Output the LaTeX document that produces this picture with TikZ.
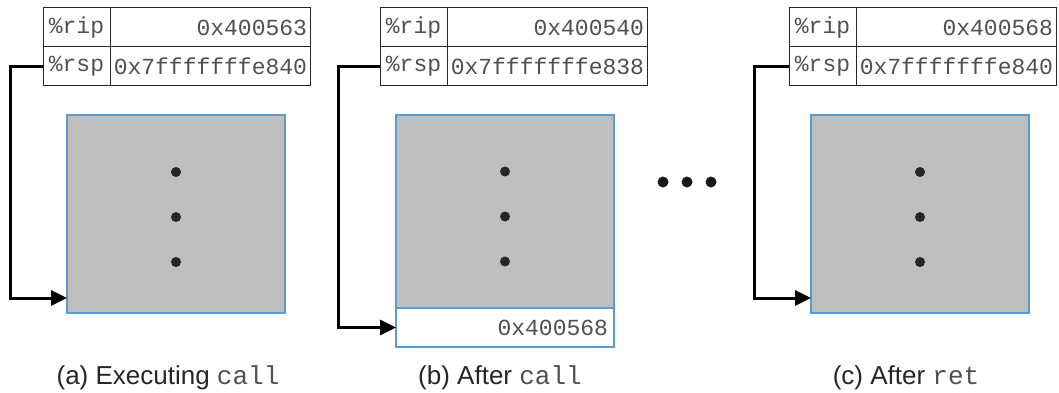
\documentclass[tikz,border=0pt]{standalone}
\usepackage{fontspec}
\setmainfont{Liberation Sans}
\setmonofont{Liberation Mono}
\usetikzlibrary{positioning,arrows.meta}

\definecolor{stackgray}{RGB}{191,191,191}
\definecolor{stackedge}{RGB}{91,155,213}
\definecolor{regtext}{RGB}{80,80,80}

\tikzset{
  regname/.style={draw=black!85, line width=1pt, outer sep=0pt, minimum width=67pt, minimum height=39pt,
    inner sep=0pt, anchor=north west, text=regtext, font=\fontsize{23}{23}\ttfamily},
  regval/.style={draw=black!85, line width=1pt, outer sep=0pt, minimum height=39pt, text width=194pt,
    inner xsep=3pt, inner ysep=0pt, align=right, text=regtext, font=\fontsize{23}{23}\ttfamily},
  stackbox/.style={draw=stackedge, line width=1.2pt, outer sep=0pt, fill=stackgray, minimum width=218pt,
    inner sep=0pt, anchor=north west},
  retslot/.style={draw=stackedge, line width=1.2pt, outer sep=0pt, fill=white, minimum height=39pt,
    text width=206pt, inner xsep=6pt, inner ysep=0pt, align=right, text=regtext, font=\fontsize{23}{23}\ttfamily},
  ptr/.style={-{Triangle[length=16pt,width=15pt]}, line width=3pt},
  caption/.style={font=\fontsize{26}{26}\selectfont, text=black!85}
}

\begin{document}
\begin{tikzpicture}[x=1pt,y=-1pt]
\useasboundingbox (0,0) rectangle (1059,393);

% (a) executing call
\node[regname] (ripA) at (43,8) {\%rip};
\node[regval, right=0pt of ripA] (ripvalA) {0x400563};
\node[regname, below=0pt of ripA] (rspA) {\%rsp};
\node[regval, right=0pt of rspA] (rspvalA) {0x7fffffffe840};
\node[stackbox, minimum height=198pt] (memA) at (67,115) {};
\foreach \d in {42,-3,-48} \fill[black!85] ([yshift=\d pt]memA.center) circle (5pt);
\draw[ptr] (rspA.west) -- ++(-33,0) |- ([yshift=15pt]memA.south west);
\node[caption] (capA) at (168,378) {(a) Executing \textcolor{regtext}{\texttt{call}}};

% (b) after call
\node[regname] (ripB) at (380,8) {\%rip};
\node[regval, right=0pt of ripB] (ripvalB) {0x400540};
\node[regname, below=0pt of ripB] (rspB) {\%rsp};
\node[regval, right=0pt of rspB] (rspvalB) {0x7fffffffe838};
\node[stackbox, minimum height=193pt] (memB) at (396,115) {};
\node[retslot, below=0pt of memB] (retB) {0x400568};
\foreach \d in {40,-5,-50} \fill[black!85] ([yshift=\d pt]memB.center) circle (5pt);
\draw[ptr] (rspB.west) -- ++(-42,0) |- (retB.west);
\node[caption] (capB) at (500,378) {(b) After \textcolor{regtext}{\texttt{call}}};

% more steps in between
\foreach \x in {663,687,711} \fill[black!90] (\x,182) circle (5.5pt);

% (c) after ret
\node[regname] (ripC) at (789,8) {\%rip};
\node[regval, right=0pt of ripC] (ripvalC) {0x400568};
\node[regname, below=0pt of ripC] (rspC) {\%rsp};
\node[regval, right=0pt of rspC] (rspvalC) {0x7fffffffe840};
\node[stackbox, minimum height=198pt] (memC) at (811,115) {};
\foreach \d in {42,-3,-48} \fill[black!85] ([yshift=\d pt]memC.center) circle (5pt);
\draw[ptr] (rspC.west) -- ++(-35,0) |- ([yshift=15pt]memC.south west);
\node[caption] (capC) at (906,378) {(c) After \textcolor{regtext}{\texttt{ret}}};
\end{tikzpicture}
\end{document}
